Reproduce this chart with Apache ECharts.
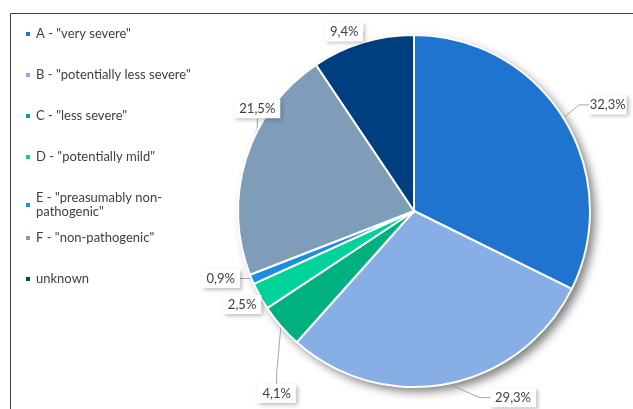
<!DOCTYPE html>
<html>
<head>
<meta charset="utf-8">
<script src="https://cdn.jsdelivr.net/npm/echarts@6/dist/echarts.min.js"></script>
<style>
  html, body { margin: 0; padding: 0; background: #fff; }
  #chart { width: 633px; height: 409px; }
</style>
</head>
<body>
<div id="chart"></div>
<script>
  // categories and shares (%)
  const categories = [
    'A - "very severe"',
    'B - "potentially less severe"',
    'C - "less severe"',
    'D - "potentially mild"',
    'E - "preasumably non-pathogenic"',
    'F - "non-pathogenic"',
    'unknown'
  ];
  const shares = [32.3, 29.3, 4.1, 2.5, 0.9, 21.5, 9.4];
  const colors = ['#1f74d0', '#87afe6', '#00b07f', '#00d49a', '#1a8ee0', '#7f9db9', '#003f7f'];

  // nudges for the data labels, to sit them where the original placed them
  const labelShift = [[2, -9], [26, 6], [36, 62], [19, 1], [7, -4], [52, -47], [18, -3]];

  const font = 'Lato, "Noto Sans", sans-serif';
  const chart = echarts.init(document.getElementById('chart'), null, { renderer: 'canvas' });

  const legendBase = {
    orient: 'vertical',
    left: 19,
    itemWidth: 6,
    itemHeight: 6,
    itemGap: 27,
    icon: 'rect',
    selectedMode: false,
    textStyle: { fontFamily: font, fontSize: 13, color: '#404040', lineHeight: 14 },
    formatter: function (name) {
      return name.indexOf('preasumably') >= 0 ? name.replace('non-', 'non-\n') : name;
    }
  };

  const center = [414, 211];
  const radius = 176;

  chart.setOption({
    backgroundColor: '#fff',
    color: colors,
    graphic: [{
      type: 'rect',
      silent: true,
      z: -10,
      shape: { x: 10.5, y: 13.5, width: 800, height: 600 },
      style: { fill: 'none', stroke: '#404040', lineWidth: 1 }
    }],
    legend: [
      Object.assign({}, legendBase, { top: 22, data: categories.slice(0, 5) }),
      Object.assign({}, legendBase, { top: 226, data: categories.slice(5) })
    ],
    series: [
      {
        // shadow disc under the pie
        type: 'pie',
        silent: true,
        z: 1,
        center: center,
        radius: radius,
        label: { show: false },
        labelLine: { show: false },
        itemStyle: {
          color: '#fff',
          shadowBlur: 10,
          shadowOffsetX: 5,
          shadowOffsetY: 5,
          shadowColor: 'rgba(0,0,0,0.5)'
        },
        data: [{ value: 1, name: '' }]
      },
      {
        type: 'pie',
        z: 2,
        center: center,
        radius: radius,
        startAngle: 90,
        clockwise: true,
        avoidLabelOverlap: true,
        itemStyle: { borderColor: '#fff', borderWidth: 2 },
        label: {
          show: true,
          position: 'outside',
          overflow: 'none',
          fontFamily: font,
          fontSize: 13,
          color: '#404040',
          backgroundColor: '#fff',
          padding: [3, 5],
          shadowBlur: 4,
          shadowOffsetX: 2,
          shadowOffsetY: 2,
          shadowColor: 'rgba(0,0,0,0.25)',
          formatter: function (p) {
            return p.value.toFixed(1).replace('.', ',') + '%';
          }
        },
        labelLine: {
          show: true,
          length: 8,
          length2: 10,
          lineStyle: { color: '#a6a6a6', width: 1 }
        },
        labelLayout: function (p) {
          const s = labelShift[p.dataIndex];
          const r = p.labelRect;
          return {
            x: r.x + r.width / 2 + s[0],
            y: r.y + r.height / 2 + s[1],
            align: 'center',
            verticalAlign: 'middle'
          };
        },
        emphasis: { disabled: true },
        data: categories.map(function (name, i) {
          return { name: name, value: shares[i] };
        })
      }
    ]
  });
</script>
</body>
</html>
